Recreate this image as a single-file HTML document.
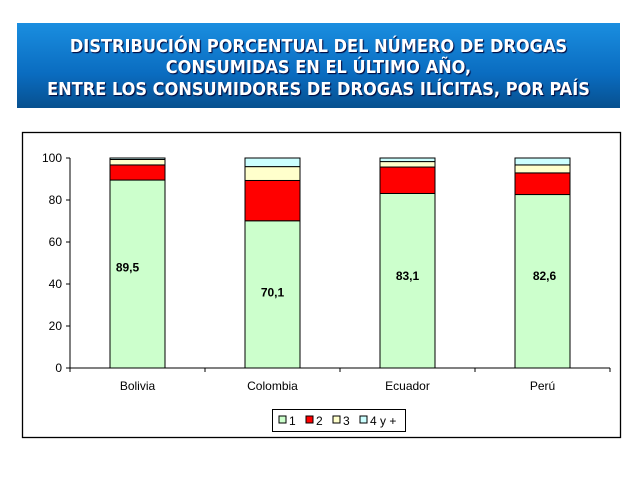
<!DOCTYPE html>
<html><head><meta charset="utf-8"><style>
body{margin:0;width:638px;height:479px;background:#fff;overflow:hidden;font-family:"Liberation Sans",sans-serif}
#banner{position:absolute;left:17px;top:23px;width:603px;height:85px;background:linear-gradient(#1a8ee0,#0a6cc0 60%,#07508f);display:flex;align-items:center;justify-content:center;text-align:center;color:#fff;font-weight:bold;font-size:18px;line-height:21.5px;padding-top:5px;box-sizing:border-box;text-shadow:1px 1px 1px #003;font-family:"DejaVu Sans Condensed","DejaVu Sans","Liberation Sans",sans-serif;font-stretch:condensed}
svg{position:absolute;left:0;top:0}
text{font-family:"Liberation Sans",sans-serif;font-size:12px}
</style></head><body>
<div id="banner">DISTRIBUCIÓN PORCENTUAL DEL NÚMERO DE DROGAS<br>CONSUMIDAS EN EL ÚLTIMO AÑO,<br>ENTRE LOS CONSUMIDORES DE DROGAS ILÍCITAS, POR PAÍS</div>
<svg id="chart" width="638" height="479"></svg>
<script>
const categories=["Bolivia","Colombia","Ecuador","Perú"];
const s1=[89.5,70.1,83.1,82.6];
const s2=[7.2,19.2,12.6,10.3];
const s3=[2.6,6.6,2.6,3.8];
const s4=[0.7,4.1,1.7,3.3];
const seriesNames=["1","2","3","4 y +"];
const yTicks=[0,20,40,60,80,100];
const colors=["#ccffcc","#ff0000","#ffffcc","#ccffff"];
const series=[s1,s2,s3,s4];
const NS="http://www.w3.org/2000/svg";
const svg=document.getElementById("chart");
function mk(t,a,p){const e=document.createElementNS(NS,t);for(const k in a)e.setAttribute(k,a[k]);(p||svg).appendChild(e);return e;}
const X0=70,X1=610,Y0=368,PX=2.1;
const y=v=>Y0-v*PX;
const bw=(X1-X0)/categories.length;
const xc=i=>X0+bw*(i+0.5);
const frame=mk("rect",{x:22.5,y:132.5,width:598,height:305,fill:"#fff",stroke:"#000","stroke-width":1.3});


const ax=mk("line",{x1:X0,y1:y(100),x2:X0,y2:Y0,stroke:"#000"});


yTicks.forEach(t=>{
  mk("line",{x1:X0-4,y1:y(t),x2:X0,y2:y(t),stroke:"#000"});
  const tx=mk("text",{x:X0-8,y:y(t)+4,"text-anchor":"end"});tx.textContent=t;
  
  
});
const xa=mk("line",{x1:X0,y1:Y0,x2:X1,y2:Y0,stroke:"#000"});


for(let i=0;i<=categories.length;i++)mk("line",{x1:X0+bw*i,y1:Y0,x2:X0+bw*i,y2:Y0+4,stroke:"#000"});
const labelOffsets=[46,34,42,42];
categories.forEach((c,i)=>{
  let acc=0;
  series.forEach((s,k)=>{
    const r=mk("rect",{x:xc(i)-27.5,y:y(acc+s[i]),width:55,height:s[i]*PX,fill:colors[k],stroke:"#000","stroke-width":1});
    
    
    acc+=s[i];
  });
  const dx=[-10,0,0,2][i];
  const lb=mk("text",{x:xc(i)+dx,y:y(labelOffsets[i]),"text-anchor":"middle","font-weight":"bold"});
  lb.textContent=s1[i].toFixed(1).replace(".",",");
  
  
  const cl=mk("text",{x:xc(i),y:Y0+22,"text-anchor":"middle"});cl.textContent=c;
  
  
});
const lg=mk("g",{});


mk("rect",{x:272.5,y:409.5,width:133,height:22,fill:"#fff",stroke:"#000"},lg);
let lx=279;
seriesNames.forEach((n,k)=>{
  const sq=mk("rect",{x:lx,y:416,width:7,height:7,fill:colors[k],stroke:"#000"},lg);
  
  
  const t=mk("text",{x:lx+10,y:425,"font-size":13},lg);t.textContent=n;
  
  
  lx+=10+(n.length>1?32:11)+6;
});
</script>
</body></html>
